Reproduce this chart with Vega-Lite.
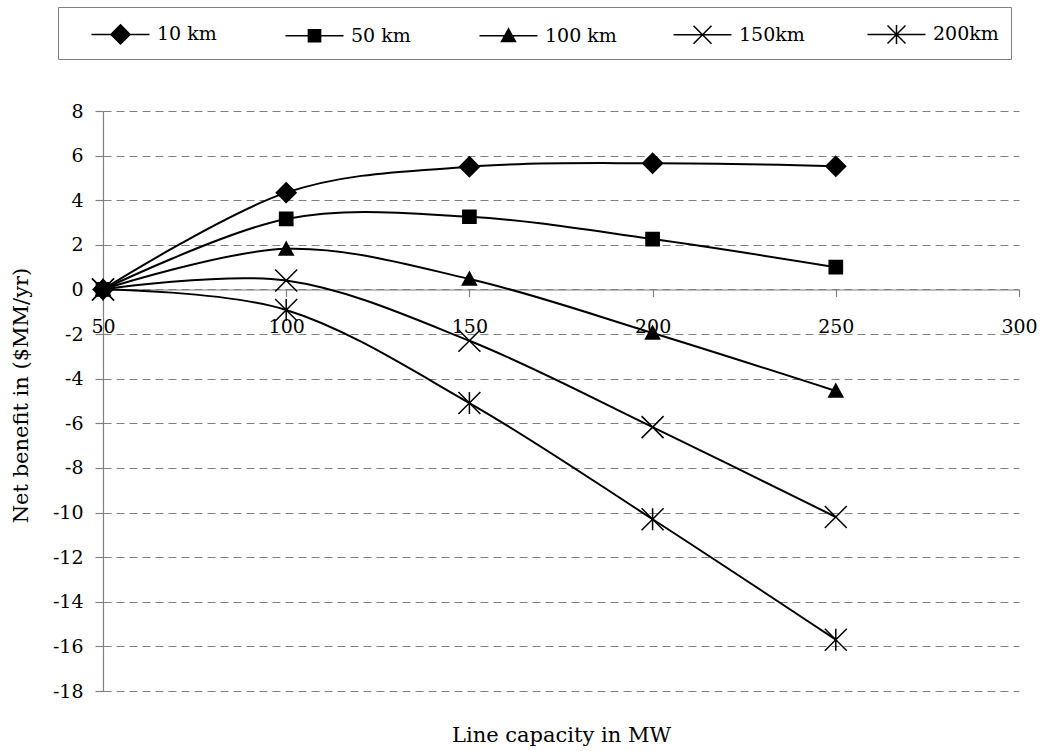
{
  "$schema": "https://vega.github.io/schema/vega-lite/v6.json",
  "width": 916,
  "height": 580,
  "autosize": {"type": "none"},
  "padding": {"left": 103, "top": 111, "right": 23, "bottom": 60},
  "background": "white",
  "config": {"font": "DejaVu Serif", "view": {"stroke": null}},
  "data": {
    "values": [
      {"series": "10 km", "capacity": 50, "benefit": 0},
      {"series": "10 km", "capacity": 100, "benefit": 4.34},
      {"series": "10 km", "capacity": 150, "benefit": 5.5},
      {"series": "10 km", "capacity": 200, "benefit": 5.66},
      {"series": "10 km", "capacity": 250, "benefit": 5.52},
      {"series": "50 km", "capacity": 50, "benefit": 0},
      {"series": "50 km", "capacity": 100, "benefit": 3.16},
      {"series": "50 km", "capacity": 150, "benefit": 3.26},
      {"series": "50 km", "capacity": 200, "benefit": 2.26},
      {"series": "50 km", "capacity": 250, "benefit": 1.0},
      {"series": "100 km", "capacity": 50, "benefit": 0},
      {"series": "100 km", "capacity": 100, "benefit": 1.82},
      {"series": "100 km", "capacity": 150, "benefit": 0.47},
      {"series": "100 km", "capacity": 200, "benefit": -1.95},
      {"series": "100 km", "capacity": 250, "benefit": -4.55},
      {"series": "150km", "capacity": 50, "benefit": 0},
      {"series": "150km", "capacity": 100, "benefit": 0.4},
      {"series": "150km", "capacity": 150, "benefit": -2.3},
      {"series": "150km", "capacity": 200, "benefit": -6.17},
      {"series": "150km", "capacity": 250, "benefit": -10.2},
      {"series": "200km", "capacity": 50, "benefit": 0},
      {"series": "200km", "capacity": 100, "benefit": -0.92},
      {"series": "200km", "capacity": 150, "benefit": -5.09},
      {"series": "200km", "capacity": 200, "benefit": -10.3},
      {"series": "200km", "capacity": 250, "benefit": -15.7}
    ]
  },
  "encoding": {
    "x": {
      "field": "capacity",
      "type": "quantitative",
      "scale": {"domain": [50, 300], "nice": false, "zero": false},
      "axis": {
        "title": "Line capacity in MW",
        "values": [50, 100, 150, 200, 250, 300],
        "labelExpr": "datum.value + ''",
        "grid": false,
        "offset": -401.5,
        "tickSize": 7,
        "domainColor": "#808080",
        "tickColor": "#808080",
        "domainWidth": 1.2,
        "tickWidth": 1.2,
        "labelFontSize": 19,
        "labelColor": "black",
        "labelPadding": 21,
        "labelFlush": false,
        "labelOverlap": false,
        "titleFontSize": 21,
        "titleFontWeight": "normal",
        "titleColor": "black",
        "titleBaseline": "alphabetic",
        "titleY": 452
      }
    },
    "y": {
      "field": "benefit",
      "type": "quantitative",
      "scale": {"domain": [-18, 8], "nice": false, "zero": false},
      "axis": {
        "title": "Net benefit in ($MM/yr)",
        "values": [-18, -16, -14, -12, -10, -8, -6, -4, -2, 0, 2, 4, 6, 8],
        "labelExpr": "datum.value + ''",
        "grid": true,
        "gridDash": [8, 5],
        "gridColor": "#808080",
        "gridWidth": 1,
        "tickSize": 8,
        "domainColor": "#808080",
        "tickColor": "#808080",
        "domainWidth": 1.2,
        "tickWidth": 1.2,
        "labelFontSize": 19,
        "labelColor": "black",
        "labelPadding": 12,
        "titleFontSize": 21,
        "titleFontWeight": "normal",
        "titleColor": "black",
        "titleBaseline": "middle",
        "titleX": -82,
        "titleY": 284
      }
    }
  },
  "resolve": {"scale": {"shape": "independent"}},
  "layer": [
    {
      "mark": {"type": "line", "interpolate": "cardinal", "color": "black", "strokeWidth": 2},
      "encoding": {"detail": {"field": "series"}}
    },
    {
      "mark": {"type": "point", "filled": true, "size": 484, "fill": "black", "stroke": "black", "strokeWidth": 1.5, "opacity": 1},
      "encoding": {
        "shape": {
          "field": "series",
          "type": "nominal",
          "scale": {
            "domain": ["10 km", "50 km", "100 km", "150km", "200km"],
            "range": [
              "M0,-0.9L0.9,0L0,0.9L-0.9,0Z",
              "M-0.6,-0.6L0.6,-0.6L0.6,0.6L-0.6,0.6Z",
              "M0,-0.62L0.64,0.55L-0.64,0.55Z",
              "M-1,-1L1,1M1,-1L-1,1",
              "M-1,-1L1,1M1,-1L-1,1M0,-1L0,1"
            ]
          },
          "legend": null
        }
      }
    },
    {
      "mark": {"type": "point", "filled": true, "size": 100, "fill": "black", "stroke": "black", "strokeWidth": 1.5, "opacity": 0},
      "encoding": {
        "shape": {
          "field": "series",
          "type": "nominal",
          "scale": {
            "domain": ["10 km", "50 km", "100 km", "150km", "200km"],
            "range": [
              "M-2,0L2,0M0,-0.66L0.66,0L0,0.66L-0.66,0Z",
              "M-2,0L2,0M-0.42,-0.42L0.42,-0.42L0.42,0.42L-0.42,0.42Z",
              "M-2,0L2,0M0,-0.48L0.48,0.4L-0.48,0.4Z",
              "M-2,0L2,0M-0.62,-0.62L0.62,0.62M0.62,-0.62L-0.62,0.62",
              "M-2,0L2,0M-0.62,-0.62L0.62,0.62M0.62,-0.62L-0.62,0.62M0,-0.66L0,0.66"
            ]
          },
          "legend": {
            "orient": "none",
            "legendX": -45,
            "legendY": -104,
            "direction": "horizontal",
            "columns": 5,
            "title": "\u00a0",
            "titleOrient": "left",
            "titleFontSize": 10,
            "titlePadding": 22,
            "strokeColor": "#808080",
            "padding": 11.5,
            "symbolSize": 841,
            "symbolOffset": 13.5,
            "symbolStrokeWidth": 1.5,
            "symbolOpacity": 1,
            "labelFontSize": 19,
            "labelColor": "black",
            "labelOffset": 21,
            "columnPadding": 53,
            "gridAlign": "all"
          }
        }
      }
    }
  ]
}
